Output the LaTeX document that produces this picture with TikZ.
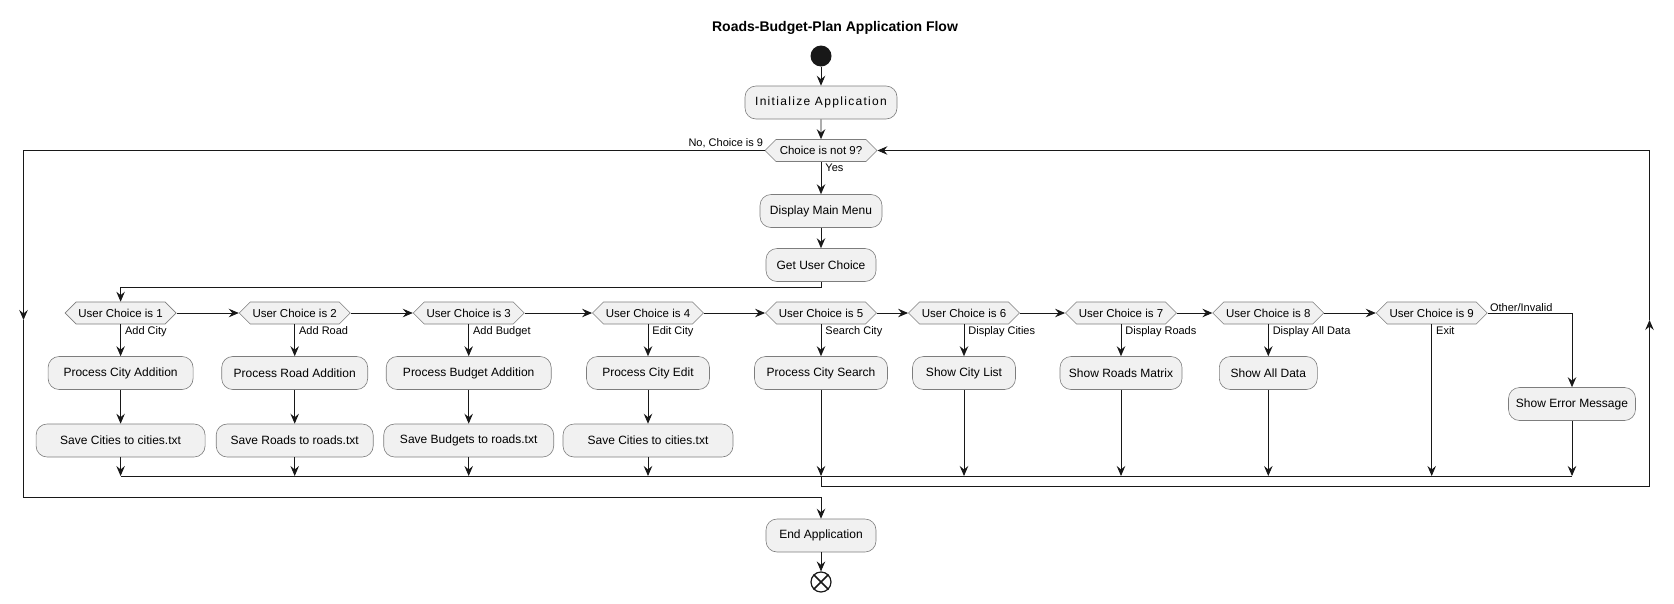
\documentclass[tikz,border=0pt]{standalone}
\usepackage{fontspec}
\setmainfont{Liberation Sans}
\usetikzlibrary{shapes,arrows.meta,calc,positioning}

\definecolor{boxfill}{RGB}{241,241,241}
\definecolor{linecol}{RGB}{24,24,24}
\definecolor{edgecol}{RGB}{125,125,125}

\begin{document}
\begin{tikzpicture}[x=1pt,y=-1pt,line width=0.9pt]
\tikzset{block/.style={rectangle,rounded corners=11pt,draw=edgecol,line width=0.6pt,fill=boxfill,font=\fontsize{12}{14}\selectfont,minimum height=33pt,inner xsep=6pt}}
\tikzset{choice/.style={signal,signal to=east and west,draw=edgecol,line width=0.6pt,fill=boxfill,font=\fontsize{11.5}{13}\selectfont,minimum height=22pt,minimum width=111pt,inner sep=0pt}}
\tikzset{lbl/.style={font=\fontsize{11}{13}\selectfont,inner sep=0pt}}
\tikzstyle{flow} = [draw=linecol,-{Stealth[length=10pt,width=8.5pt,inset=3.5pt]}]

\useasboundingbox (0,0) rectangle (1674,603);

\node [font=\bfseries\fontsize{14}{16}\selectfont] (title) at (835,28) {Roads-Budget-Plan Application Flow};

\node [circle,fill=linecol,minimum size=21pt,inner sep=0pt] (start) at (821,56) {};
\node [block,minimum width=152pt] (init) at (821,102.5) {\addfontfeature{LetterSpace=11}Initialize Application};
\node [choice,minimum width=112pt] (loop) at (821,150.5) {Choice is not 9?};
\node [block,minimum width=122pt] (menu) at (821,211) {Display Main Menu};
\node [block,minimum width=110pt] (getch) at (821,265) {Get User Choice};

% one decision per menu entry
\foreach \i/\x in {1/120.6,2/294.7,3/468.7,4/648,5/821,6/964,7/1121,8/1268.3,9/1431.7}
  \node [choice] (d\i) at (\x,313) {User Choice is \i};

\foreach \i/\w/\t in {1/145/Process City Addition,2/146/Process Road Addition,3/165/Process Budget Addition,4/123/Process City Edit,5/133/Process City Search,6/103/Show City List,7/122/Show Roads Matrix,8/98/Show All Data}
  \node [block,minimum width=\w pt] (p\i) at (d\i |- 0,373) {\t};

\foreach \i/\w/\t in {1/169/Save Cities to cities.txt,2/157/Save Roads to roads.txt,3/170/Save Budgets to roads.txt,4/170/Save Cities to cities.txt}
  \node [block,minimum width=\w pt] (s\i) at (d\i |- 0,440.5) {\t};

\node [block,minimum width=127pt] (err) at (1572,404) {Show Error Message};
\node [block,minimum width=110pt] (endapp) at (821,535.5) {End Application};
\node [circle,draw=linecol,line width=1.2pt,minimum size=20pt,inner sep=0pt] (stop) at (821,582) {};
\draw [linecol,line width=1.5pt] (stop.north west) -- (stop.south east) (stop.north east) -- (stop.south west);

\coordinate (mL) at (120.6,476);
\coordinate (mR) at (1572,476);
\coordinate (rb) at (1649.5,486);
\coordinate (rm) at (1649.5,320);
\coordinate (lm) at (23.5,320);
\coordinate (lb) at (23.5,497.5);

\begin{scope}[every path/.style={draw=linecol}]
\draw[flow] (start) -- (init);
\draw[flow] (init) -- (loop);
\draw[flow] (loop.south) -- node[lbl,pos=0,anchor=north west,xshift=4pt,yshift=-2pt]{Yes} (menu.north);
\draw[flow] (menu) -- (getch);
\draw[flow] (getch.south) -- ++(0,5.5) -| (d1.north);

\foreach \i [count=\j from 2] in {1,...,8}
  \draw[flow] (d\i.east) -- (d\j.west);

\foreach \i/\t in {1/Add City,2/Add Road,3/Add Budget,4/Edit City,5/Search City,6/Display Cities,7/Display Roads,8/Display All Data}
  \draw[flow] (d\i.south) -- node[lbl,pos=0,anchor=north west,xshift=4pt,yshift=-1.5pt]{\t} (p\i.north);

\foreach \i in {1,...,4}{%
  \draw[flow] (p\i) -- (s\i);
  \draw[flow] (s\i.south) -- (s\i.south |- mL);}

\foreach \i in {5,...,8}
  \draw[flow] (p\i.south) -- (p\i.south |- mL);

\draw[flow] (d9.south) -- node[lbl,pos=0,anchor=north west,xshift=4pt,yshift=-1.5pt]{Exit} (d9.south |- mL);
\draw[flow] (d9.east) -| node[lbl,pos=0,anchor=south west,xshift=2pt,yshift=1pt]{Other/Invalid} (err.north);
\draw[flow] (err.south) -- (err.south |- mL);

\draw (mL) -- (mR);

% back to the loop test
\draw (p5.south |- mL) |- (rb);
\draw[flow] (rb) -- (rm);
\draw[flow] (rm) |- (loop.east);

% leaving the loop
\draw[flow] (loop.west) node[lbl,anchor=south east,xshift=-1pt,yshift=2pt]{No, Choice is 9} -| (lm);
\draw (lm) -- (lb);
\draw[flow] (lb) -| (endapp.north);
\draw[flow] (endapp) -- (stop);
\end{scope}
\end{tikzpicture}
\end{document}
